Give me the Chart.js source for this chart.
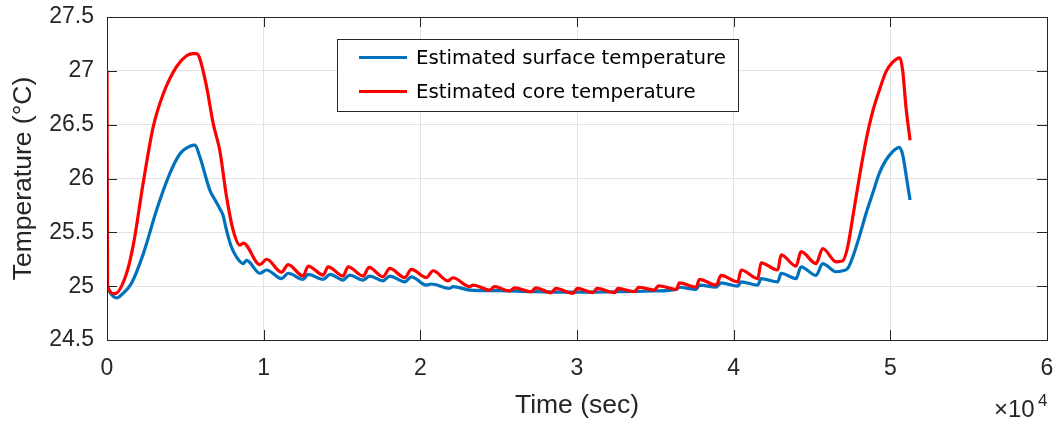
<!DOCTYPE html>
<html>
<head>
<meta charset="utf-8">
<title>Estimated temperatures</title>
<script src="https://cdn.jsdelivr.net/npm/chart.js@4.4.1/dist/chart.umd.min.js"></script>
<style>
    html, body { margin: 0; padding: 0; background: #ffffff; }
    #wrap { width: 1058px; height: 423px; }
</style>
</head>
<body>
<div id="wrap"><canvas id="tempChart" width="1058" height="423"></canvas></div>
<script>
// ===== Data =====

// surface temperature estimate (time in s, temperature in degC)
const surfaceTime = [
    0, 300, 620, 1000, 1575, 2315, 3170, 4020, 4660, 5290, 5610, 5930, 6570, 6900, 7200, 7400, 7630, 7900,
    8270, 8700, 8910, 9760, 10190, 11140, 11560, 12520, 12840, 13800, 14240, 15070, 15490, 16350, 16770,
    17620, 18050, 19000, 19430, 20390, 20710, 21870, 22090, 23150, 25000, 27000, 29000, 31000, 33000,
    35000, 36330, 36540, 37600, 37820, 38880, 39200, 40260, 40480, 41540, 41750, 42810, 43030, 43980,
    44300, 45260, 45680, 46540, 46960, 47280, 47600, 48020, 48450, 48870, 49300, 49720, 50150, 50570,
    50790, 51060, 51260
];
const surfaceTemp = [
    24.99, 24.92, 24.89, 24.93, 25.03, 25.30, 25.71, 26.05, 26.23, 26.30, 26.31, 26.20, 25.89, 25.80, 25.72, 25.66, 25.52, 25.38,
    25.27, 25.21, 25.24, 25.12, 25.15, 25.07, 25.12, 25.063, 25.11, 25.063, 25.11, 25.057, 25.103, 25.057, 25.094,
    25.05, 25.094, 25.04, 25.087, 25.01, 25.02, 24.98, 24.995, 24.964, 24.958, 24.95, 24.945, 24.945, 24.95,
    24.955, 24.97, 24.99, 24.97, 25.01, 24.99, 25.03, 25.00, 25.04, 25.01, 25.07, 25.04, 25.12, 25.07,
    25.18, 25.10, 25.21, 25.134, 25.143, 25.165, 25.27, 25.46, 25.675, 25.86, 26.05, 26.17, 26.25, 26.29,
    26.22, 25.98, 25.80
];

// core temperature estimate
const coreTime = [
    0, 40, 500, 1250, 1700, 2300, 2950, 3600, 4440, 5080, 5500, 5720, 5930, 6360, 6780, 7200, 7630, 8050,
    8480, 8700, 9760, 10190, 11140, 11560, 12520, 12840, 13800, 14110, 15070, 15390, 16350, 16730, 17620,
    18050, 19000, 19430, 20390, 20810, 21770, 22090, 23150, 23360, 24430, 24740, 25700, 26020, 27080,
    27360, 28360, 28640, 29740, 30020, 31020, 31270, 32400, 32610, 33670, 33930, 34950, 35200, 36330,
    36540, 37600, 37820, 38880, 39200, 40260, 40480, 41540, 41750, 42810, 43030, 43980, 44300, 45260,
    45680, 46540, 46960, 47280, 47600, 48020, 48450, 48870, 49300, 49720, 50150, 50610, 50790, 51000, 51260
];
const coreTemp = [
    27.0, 25.0, 24.93, 25.12, 25.40, 25.95, 26.48, 26.79, 27.04, 27.14, 27.16, 27.16, 27.11, 26.85, 26.51, 26.26, 25.83, 25.52,
    25.38, 25.40, 25.20, 25.25, 25.13, 25.20, 25.094, 25.187, 25.103, 25.18, 25.094, 25.18, 25.094, 25.174, 25.087,
    25.165, 25.08, 25.156, 25.08, 25.143, 25.05, 25.078, 24.995, 25.01, 24.964, 24.995, 24.955, 24.985, 24.948,
    24.985, 24.94, 24.98, 24.933, 24.98, 24.94, 24.98, 24.94, 24.98, 24.948, 24.99, 24.964, 25.004, 24.97,
    25.03, 24.99, 25.063, 25.01, 25.10, 25.04, 25.15, 25.07, 25.217, 25.15, 25.29, 25.186, 25.32, 25.21,
    25.35, 25.226, 25.235, 25.366, 25.64, 26.01, 26.355, 26.62, 26.82, 26.99, 27.08, 27.12, 27.0, 26.66, 26.355
];

const seriesLabels = ['Estimated surface temperature', 'Estimated core temperature'];
const xTicks = [0, 10000, 20000, 30000, 40000, 50000, 60000];
const xTickLabels = ['0', '1', '2', '3', '4', '5', '6'];
const yTicks = [24.5, 25, 25.5, 26, 26.5, 27, 27.5];
const yTickLabels = ['24.5', '25', '25.5', '26', '26.5', '27', '27.5'];

const toPoints = (xs, ys) => xs.map((x, i) => ({ x, y: ys[i] }));

const AXIS_COLOR = '#262626';
const GRID_COLOR = '#e3e3e3';
const TICK_FONT = { family: '"Liberation Sans", Helvetica, Arial, sans-serif', size: 23 };
const TITLE_FONT = { family: '"Liberation Sans", Helvetica, Arial, sans-serif', size: 26.5 };

// box, inward ticks, exponent label and legend drawn on top
const axesDecor = {
    id: 'axesDecor',
    afterDraw(chart) {
        const { ctx, chartArea: a, scales } = chart;
        const tickLen = 10;
        ctx.save();

        ctx.strokeStyle = AXIS_COLOR;
        ctx.lineWidth = 1;
        ctx.beginPath();
        xTicks.forEach(v => {
            const px = Math.round(scales.x.getPixelForValue(v)) + 0.5;
            ctx.moveTo(px, a.bottom); ctx.lineTo(px, a.bottom - tickLen);
            ctx.moveTo(px, a.top); ctx.lineTo(px, a.top + tickLen);
        });
        yTicks.forEach(v => {
            const py = Math.round(scales.y.getPixelForValue(v)) + 0.5;
            ctx.moveTo(a.left, py); ctx.lineTo(a.left + tickLen, py);
            ctx.moveTo(a.right, py); ctx.lineTo(a.right - tickLen, py);
        });
        ctx.stroke();
        ctx.strokeRect(Math.round(a.left) + 0.5, Math.round(a.top) + 0.5,
            Math.round(a.right - a.left), Math.round(a.bottom - a.top));

        // x10^4 multiplier under the right end of the axis
        ctx.fillStyle = AXIS_COLOR;
        ctx.textBaseline = 'alphabetic';
        ctx.textAlign = 'left';
        ctx.font = '24px "Liberation Sans", Helvetica, Arial, sans-serif';
        ctx.fillText('\u00d710', 994, 417);
        ctx.font = '17px "Liberation Sans", Helvetica, Arial, sans-serif';
        ctx.fillText('4', 1038, 406);

        // legend
        const lx = 337, ly = 39, lw = 401, lh = 72;
        ctx.fillStyle = '#ffffff';
        ctx.fillRect(lx, ly, lw, lh);
        ctx.strokeStyle = AXIS_COLOR;
        ctx.strokeRect(lx + 0.5, ly + 0.5, lw, lh);
        ctx.font = '19.8px "DejaVu Sans", sans-serif';
        ctx.textBaseline = 'middle';
        const rows = [57.5, 91.5];
        chart.data.datasets.forEach((ds, i) => {
            ctx.strokeStyle = ds.borderColor;
            ctx.lineWidth = 3;
            ctx.beginPath();
            ctx.moveTo(359, rows[i]); ctx.lineTo(407, rows[i]);
            ctx.stroke();
            ctx.fillStyle = '#000000';
            ctx.fillText(ds.label, 416, rows[i] + 1);
        });
        ctx.restore();
    }
};

new Chart(document.getElementById('tempChart'), {
    type: 'line',
    data: {
        datasets: [{
            label: seriesLabels[0],
            data: toPoints(surfaceTime, surfaceTemp),
            borderColor: '#0072bd',
            borderWidth: 3.2,
            pointRadius: 0,
            cubicInterpolationMode: 'monotone',
            order: 1
        }, {
            label: seriesLabels[1],
            data: toPoints(coreTime, coreTemp),
            borderColor: '#ff0000',
            borderWidth: 3.2,
            pointRadius: 0,
            cubicInterpolationMode: 'monotone',
            order: 0
        }]
    },
    options: {
        responsive: false,
        animation: false,
        layout: { padding: 0 },
        plugins: {
            legend: { display: false },
            tooltip: { enabled: false }
        },
        scales: {
            x: {
                type: 'linear',
                min: 0,
                max: 60000,
                afterBuildTicks: s => { s.ticks = xTicks.map(v => ({ value: v })); },
                afterFit: s => {
                    s.height = 83;
                    s.paddingLeft = 0;
                    s.paddingRight = 11;
                },
                grid: { color: GRID_COLOR, drawTicks: false },
                border: { display: false },
                ticks: {
                    color: AXIS_COLOR,
                    font: TICK_FONT,
                    padding: 15,
                    maxRotation: 0,
                    callback: (v, i) => xTickLabels[i]
                },
                title: {
                    display: true,
                    text: 'Time (sec)',
                    color: AXIS_COLOR,
                    font: TITLE_FONT,
                    padding: { top: 0, bottom: 1 }
                }
            },
            y: {
                min: 24.5,
                max: 27.5,
                afterBuildTicks: s => { s.ticks = yTicks.map(v => ({ value: v })); },
                afterFit: s => {
                    s.width = 107;
                    s.paddingTop = 17;
                    s.paddingBottom = 0;
                },
                grid: { color: GRID_COLOR, drawTicks: false },
                border: { display: false },
                ticks: {
                    color: AXIS_COLOR,
                    font: TICK_FONT,
                    padding: 13,
                    callback: (v, i) => yTickLabels[i]
                },
                title: {
                    display: true,
                    text: 'Temperature (\u00b0C)',
                    color: AXIS_COLOR,
                    font: TITLE_FONT,
                    padding: { top: 8, bottom: 0 }
                }
            }
        }
    },
    plugins: [axesDecor]
});
</script>
</body>
</html>
